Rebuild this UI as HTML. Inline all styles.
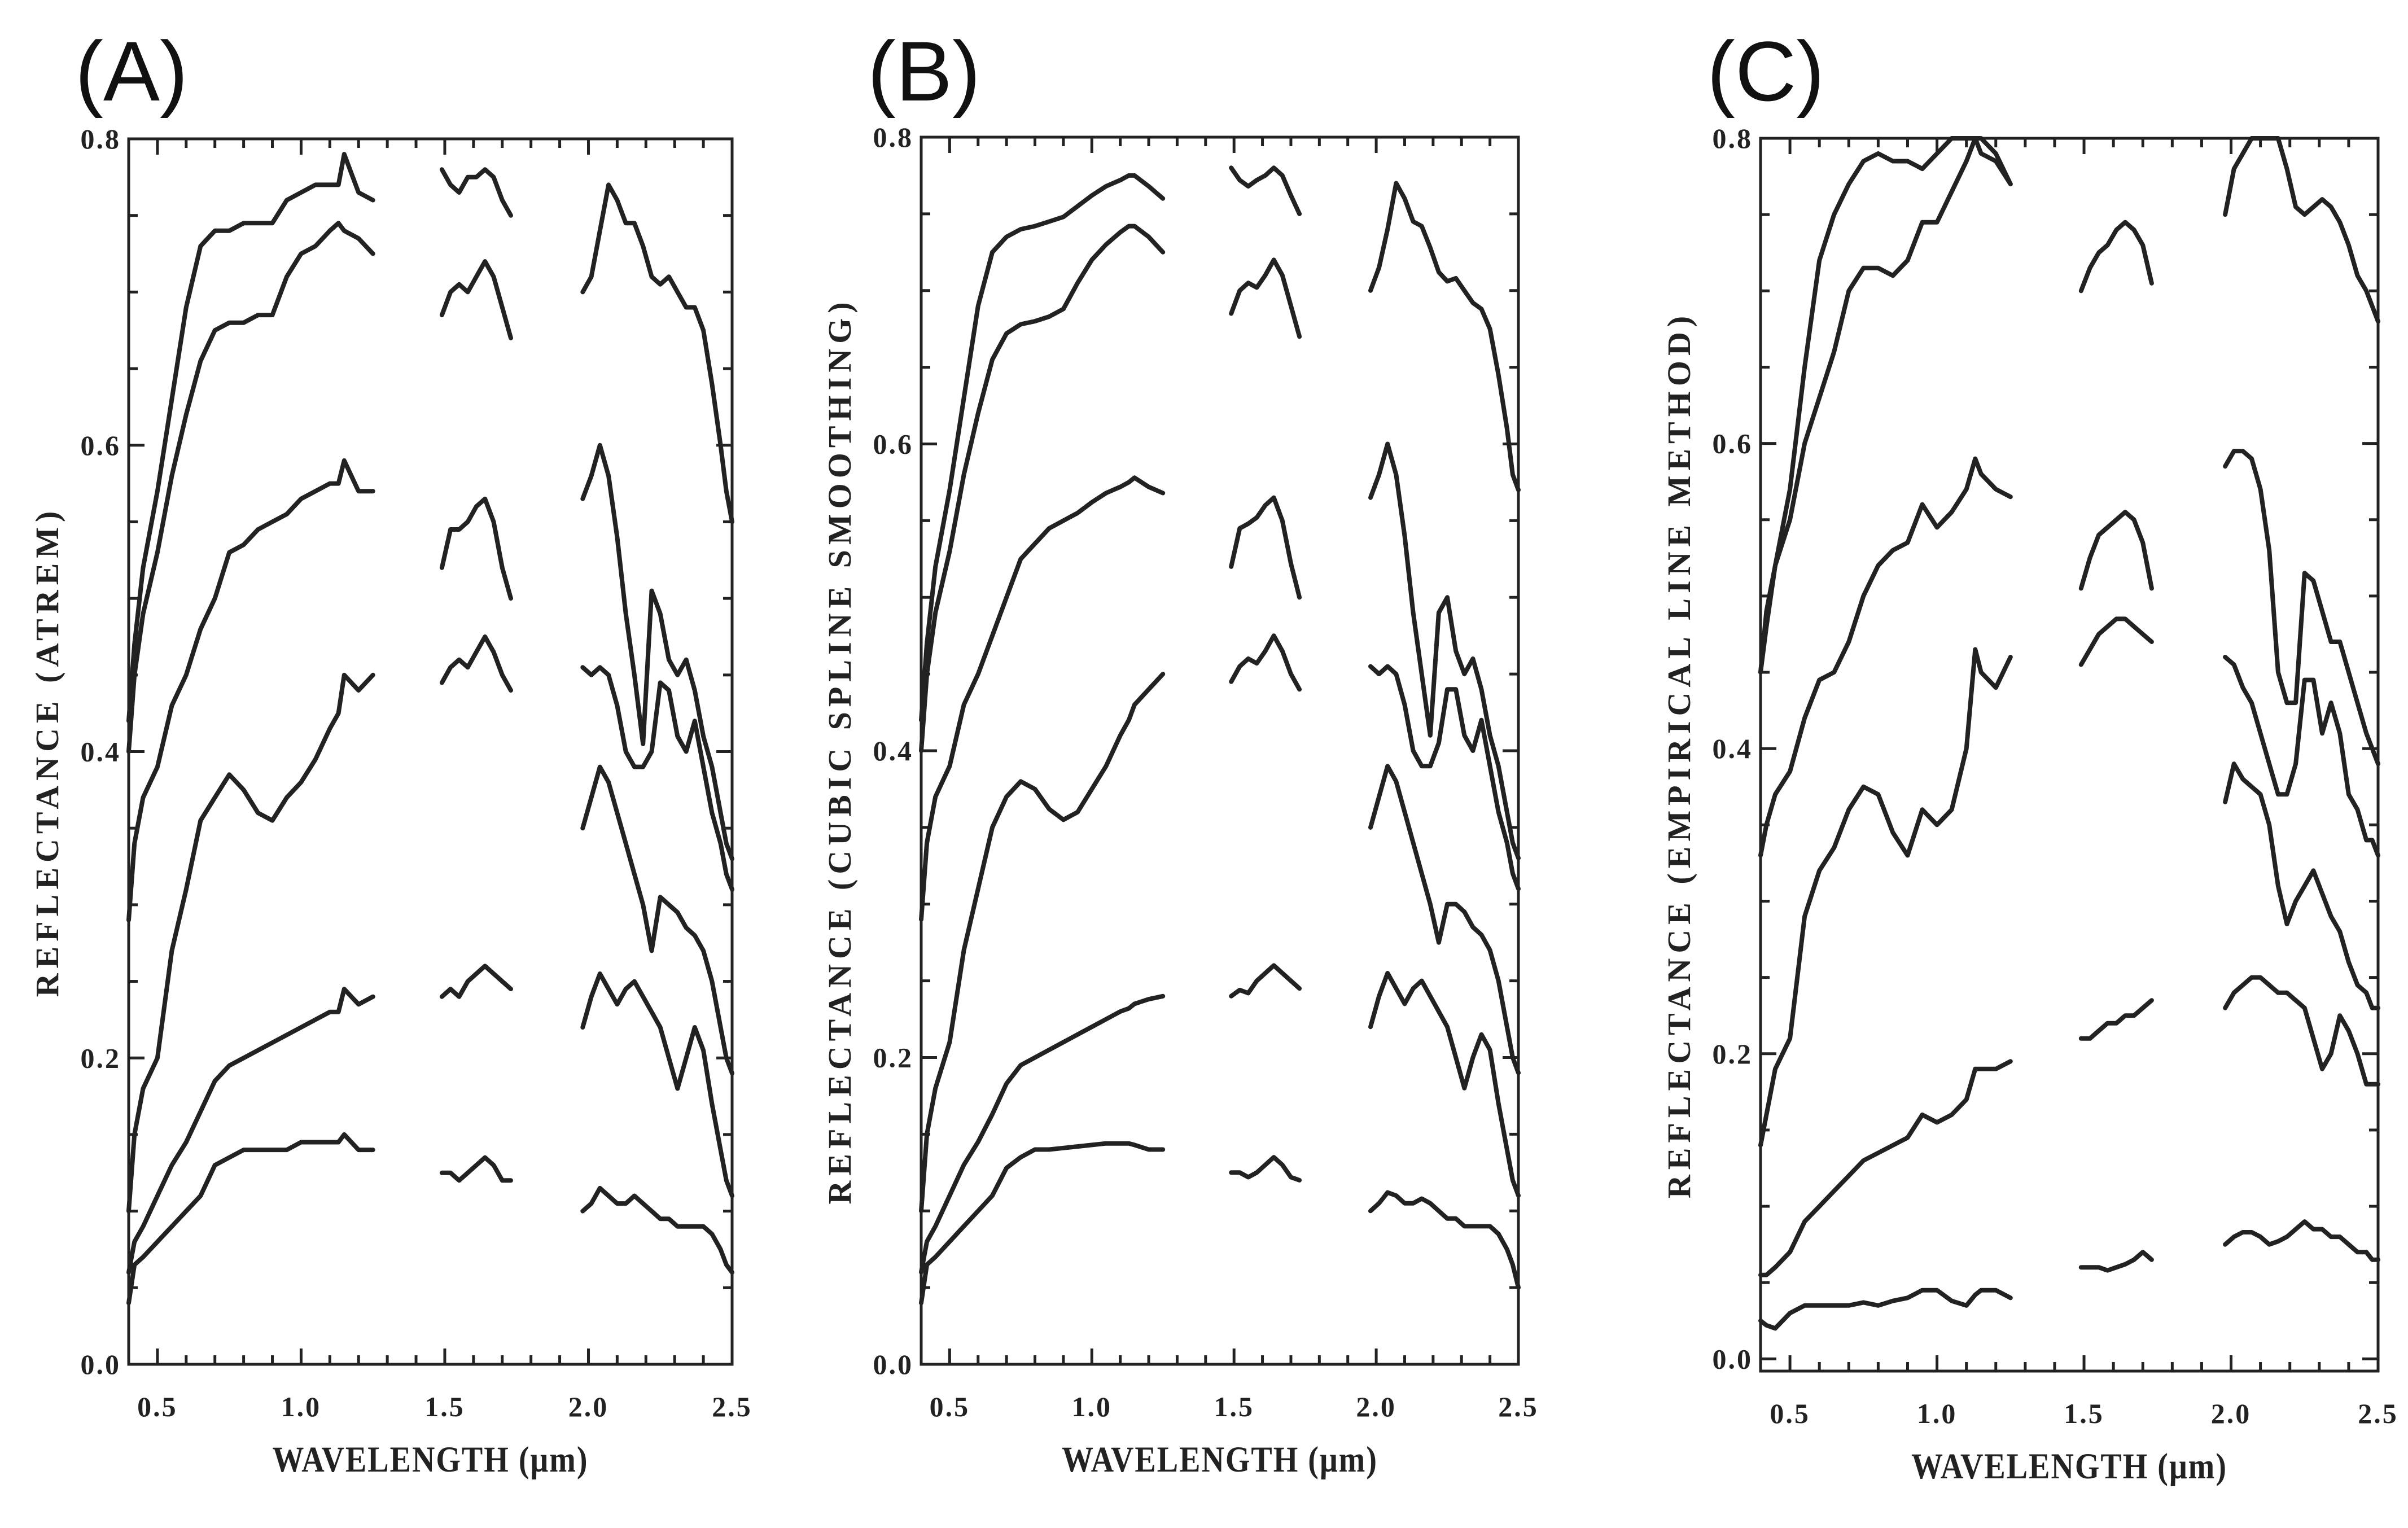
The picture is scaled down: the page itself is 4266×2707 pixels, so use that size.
<!DOCTYPE html>
<html><head><meta charset="utf-8"><style>
html,body{margin:0;padding:0;background:#fff;}
svg{display:block;}
text{font-family:"Liberation Serif",serif;font-weight:bold;fill:#222;}
.plab{font-family:"Liberation Sans",sans-serif;font-weight:normal;font-size:150px;fill:#111;}
</style></head><body>
<svg id="fig" width="4266" height="2707" viewBox="0 0 4266 2707" xmlns="http://www.w3.org/2000/svg"></svg>
<script>
// wavelength grids
const wl1 = [0.4,0.42,0.45,0.5,0.55,0.6,0.65,0.7,0.75,0.8,0.85,0.9,0.95,1.0,1.05,1.1,1.13,1.15,1.2,1.25];
const wl2 = [1.49,1.52,1.55,1.58,1.61,1.64,1.67,1.7,1.73];
const wl3 = [1.98,2.01,2.04,2.07,2.10,2.13,2.16,2.19,2.22,2.25,2.28,2.31,2.34,2.37,2.40,2.43,2.46,2.48,2.5];
const xTicks = [0.5,1.0,1.5,2.0,2.5];
const xTickLabels = ["0.5","1.0","1.5","2.0","2.5"];
const yTicks = [0,0.2,0.4,0.6,0.8];
const yTickLabels = ["0.0","0.2","0.4","0.6","0.8"];

// Panel A (ATREM)
const aL1=[0.42,0.47,0.52,0.57,0.63,0.69,0.73,0.74,0.74,0.745,0.745,0.745,0.76,0.765,0.77,0.77,0.77,0.79,0.765,0.76];
const aL2=[0.40,0.45,0.49,0.53,0.58,0.62,0.655,0.675,0.68,0.68,0.685,0.685,0.71,0.725,0.73,0.74,0.745,0.74,0.735,0.725];
const aL3=[0.29,0.34,0.37,0.39,0.43,0.45,0.48,0.50,0.53,0.535,0.545,0.55,0.555,0.565,0.57,0.575,0.575,0.59,0.57,0.57];
const aL4=[0.10,0.15,0.18,0.20,0.27,0.31,0.355,0.37,0.385,0.375,0.36,0.355,0.37,0.38,0.395,0.415,0.425,0.45,0.44,0.45];
const aL5=[0.06,0.08,0.09,0.11,0.13,0.145,0.165,0.185,0.195,0.20,0.205,0.21,0.215,0.22,0.225,0.23,0.23,0.245,0.235,0.24];
const aL6=[0.04,0.065,0.07,0.08,0.09,0.10,0.11,0.13,0.135,0.14,0.14,0.14,0.14,0.145,0.145,0.145,0.145,0.15,0.14,0.14];
const aM1=[0.78,0.77,0.765,0.775,0.775,0.78,0.775,0.76,0.75];
const aM2=[0.685,0.70,0.705,0.70,0.71,0.72,0.71,0.69,0.67];
const aM3=[0.52,0.545,0.545,0.55,0.56,0.565,0.55,0.52,0.50];
const aM4=[0.445,0.455,0.46,0.455,0.465,0.475,0.465,0.45,0.44];
const aM5=[0.24,0.245,0.24,0.25,0.255,0.26,0.255,0.25,0.245];
const aM6=[0.125,0.125,0.12,0.125,0.13,0.135,0.13,0.12,0.12];
const aR1=[0.70,0.71,0.74,0.77,0.76,0.745,0.745,0.73,0.71,0.705,0.71,0.70,0.69,0.69,0.675,0.64,0.60,0.57,0.55];
const aR2=[0.565,0.58,0.60,0.58,0.54,0.49,0.45,0.405,0.505,0.49,0.46,0.45,0.46,0.44,0.41,0.39,0.36,0.34,0.33];
const aR3=[0.455,0.45,0.455,0.45,0.43,0.40,0.39,0.39,0.40,0.445,0.44,0.41,0.40,0.42,0.39,0.36,0.34,0.32,0.31];
const aR4=[0.35,0.37,0.39,0.38,0.36,0.34,0.32,0.30,0.27,0.305,0.30,0.295,0.285,0.28,0.27,0.25,0.22,0.20,0.19];
const aR5=[0.22,0.24,0.255,0.245,0.235,0.245,0.25,0.24,0.23,0.22,0.20,0.18,0.20,0.22,0.205,0.17,0.14,0.12,0.11];
const aR6=[0.10,0.105,0.115,0.11,0.105,0.105,0.11,0.105,0.10,0.095,0.095,0.09,0.09,0.09,0.09,0.085,0.075,0.065,0.06];

// Panel B (cubic spline smoothing)
const bL1=[0.42,0.47,0.52,0.57,0.63,0.69,0.725,0.735,0.74,0.742,0.745,0.748,0.755,0.762,0.768,0.772,0.775,0.775,0.768,0.76];
const bL2=[0.40,0.45,0.49,0.53,0.58,0.62,0.655,0.672,0.678,0.68,0.683,0.688,0.705,0.72,0.73,0.738,0.742,0.742,0.735,0.725];
const bL3=[0.29,0.34,0.37,0.39,0.43,0.45,0.475,0.50,0.525,0.535,0.545,0.55,0.555,0.562,0.568,0.572,0.575,0.578,0.572,0.568];
const bL4=[0.10,0.15,0.18,0.21,0.27,0.31,0.35,0.37,0.38,0.375,0.362,0.355,0.36,0.375,0.39,0.41,0.42,0.43,0.44,0.45];
const bL5=[0.06,0.08,0.09,0.11,0.13,0.145,0.163,0.183,0.195,0.20,0.205,0.21,0.215,0.22,0.225,0.23,0.232,0.235,0.238,0.24];
const bL6=[0.04,0.065,0.07,0.08,0.09,0.10,0.11,0.128,0.135,0.14,0.14,0.141,0.142,0.143,0.144,0.144,0.144,0.143,0.14,0.14];
const bM1=[0.78,0.772,0.768,0.772,0.775,0.78,0.775,0.762,0.75];
const bM2=[0.685,0.70,0.705,0.702,0.71,0.72,0.71,0.69,0.67];
const bM3=[0.52,0.545,0.548,0.552,0.56,0.565,0.55,0.522,0.50];
const bM4=[0.445,0.455,0.46,0.457,0.465,0.475,0.465,0.45,0.44];
const bM5=[0.24,0.244,0.242,0.25,0.255,0.26,0.255,0.25,0.245];
const bM6=[0.125,0.125,0.122,0.125,0.13,0.135,0.13,0.122,0.12];
const bR1=[0.70,0.715,0.74,0.77,0.76,0.745,0.742,0.728,0.712,0.706,0.708,0.70,0.692,0.688,0.675,0.645,0.61,0.58,0.57];
const bR2=[0.565,0.58,0.60,0.58,0.54,0.49,0.45,0.41,0.49,0.50,0.465,0.45,0.46,0.44,0.41,0.39,0.36,0.34,0.33];
const bR3=[0.455,0.45,0.455,0.45,0.43,0.40,0.39,0.39,0.405,0.44,0.44,0.41,0.40,0.42,0.39,0.36,0.34,0.32,0.31];
const bR4=[0.35,0.37,0.39,0.38,0.36,0.34,0.32,0.30,0.275,0.30,0.30,0.295,0.285,0.28,0.27,0.25,0.22,0.20,0.19];
const bR5=[0.22,0.24,0.255,0.245,0.235,0.245,0.25,0.24,0.23,0.22,0.20,0.18,0.20,0.215,0.205,0.17,0.14,0.12,0.11];
const bR6=[0.10,0.105,0.112,0.11,0.105,0.105,0.108,0.105,0.10,0.095,0.095,0.09,0.09,0.09,0.09,0.085,0.075,0.065,0.05];

// Panel C (empirical line method)
const cL1=[0.45,0.48,0.52,0.57,0.65,0.72,0.75,0.77,0.785,0.79,0.785,0.785,0.78,0.79,0.80,0.80,0.80,0.79,0.785,0.77];
const cL2=[0.45,0.49,0.52,0.55,0.60,0.63,0.66,0.70,0.715,0.715,0.71,0.72,0.745,0.745,0.765,0.785,0.80,0.80,0.79,0.77];
const cL3=[0.33,0.35,0.37,0.385,0.42,0.445,0.45,0.47,0.50,0.52,0.53,0.535,0.56,0.545,0.555,0.57,0.59,0.58,0.57,0.565];
const cL4=[0.14,0.16,0.19,0.21,0.29,0.32,0.335,0.36,0.375,0.37,0.345,0.33,0.36,0.35,0.36,0.40,0.465,0.45,0.44,0.46];
const cL5=[0.055,0.055,0.06,0.07,0.09,0.10,0.11,0.12,0.13,0.135,0.14,0.145,0.16,0.155,0.16,0.17,0.19,0.19,0.19,0.195];
const cL6=[0.025,0.022,0.02,0.03,0.035,0.035,0.035,0.035,0.037,0.035,0.038,0.04,0.045,0.045,0.038,0.035,0.042,0.045,0.045,0.04];
const cM1=[0.70,0.715,0.725,0.73,0.74,0.745,0.74,0.73,0.705];
const cM2=[0.505,0.525,0.54,0.545,0.55,0.555,0.55,0.535,0.505];
const cM3=[0.455,0.465,0.475,0.48,0.485,0.485,0.48,0.475,0.47];
const cM4=[0.21,0.21,0.215,0.22,0.22,0.225,0.225,0.23,0.235];
const cM5=[0.06,0.06,0.06,0.058,0.06,0.062,0.065,0.07,0.065];
const cR1=[0.75,0.78,0.79,0.80,0.80,0.80,0.80,0.78,0.755,0.75,0.755,0.76,0.755,0.745,0.73,0.71,0.70,0.69,0.68];
const cR2=[0.585,0.595,0.595,0.59,0.57,0.53,0.45,0.43,0.43,0.515,0.51,0.49,0.47,0.47,0.45,0.43,0.41,0.40,0.39];
const cR3=[0.46,0.455,0.44,0.43,0.41,0.39,0.37,0.37,0.39,0.445,0.445,0.41,0.43,0.41,0.37,0.36,0.34,0.34,0.33];
const cR4=[0.365,0.39,0.38,0.375,0.37,0.35,0.31,0.285,0.30,0.31,0.32,0.305,0.29,0.28,0.26,0.245,0.24,0.23,0.23];
const cR5=[0.23,0.24,0.245,0.25,0.25,0.245,0.24,0.24,0.235,0.23,0.21,0.19,0.20,0.225,0.215,0.20,0.18,0.18,0.18];
const cR6=[0.075,0.08,0.083,0.083,0.08,0.075,0.077,0.08,0.085,0.09,0.085,0.085,0.08,0.08,0.075,0.07,0.07,0.065,0.065];

const NS='http://www.w3.org/2000/svg';
const svg=document.getElementById('fig');
function mk(tag,attrs,parent){const e=document.createElementNS(NS,tag);for(const k in attrs)e.setAttribute(k,attrs[k]);(parent||svg).appendChild(e);return e;}

function panel(id,letter,box,ymin,ytitle,series){
  const g=mk('g',{});
  
  
  const xS=v=>box.l+(v-0.4)/(2.5-0.4)*(box.r-box.l);
  const yS=v=>box.b-(v-ymin)/(0.8-ymin)*(box.b-box.t);
  const lab=mk('text',{x:box.l-95,y:178,class:'plab'},g);lab.textContent='('+letter+')';
  
  
  const frame=mk('rect',{x:box.l,y:box.t,width:box.r-box.l,height:box.b-box.t,fill:'none',stroke:'#222','stroke-width':5},g);
  
  
  for(let i=4;i<=25;i++){const v=i/10,x=xS(v),maj=(i%5===0),L=maj?28:16;
    mk('line',{x1:x,y1:box.b,x2:x,y2:box.b-L,stroke:'#222','stroke-width':5},g);
    mk('line',{x1:x,y1:box.t,x2:x,y2:box.t+L,stroke:'#222','stroke-width':5},g);}
  for(let i=0;i<=16;i++){const v=i*0.05;if(v<ymin)continue;const y=yS(v),maj=(i%4===0),L=maj?28:16;
    mk('line',{x1:box.l,y1:y,x2:box.l+L,y2:y,stroke:'#222','stroke-width':5},g);
    mk('line',{x1:box.r,y1:y,x2:box.r-L,y2:y,stroke:'#222','stroke-width':5},g);}
  xTicks.forEach((v,i)=>{const t=mk('text',{x:xS(v),y:box.b+92,'text-anchor':'middle','font-size':50,'letter-spacing':3},g);t.textContent=xTickLabels[i];
    
    });
  yTicks.forEach((v,i)=>{const t=mk('text',{x:box.l-14,y:yS(v)+17,'text-anchor':'end','font-size':50,'letter-spacing':3},g);t.textContent=yTickLabels[i];
    
    });
  const xt=mk('text',{x:(box.l+box.r)/2,y:box.b+190,'text-anchor':'middle','font-size':56,'letter-spacing':2},g);
  xt.setAttribute('transform',`translate(0,${-(box.b+190)*0.15}) scale(1,1.15)`);
  xt.textContent='WAVELENGTH (μm)';
  
  
  const cy=(box.t+box.b)/2, cx=box.l-125;
  const yt=mk('text',{x:cx,y:cy,'text-anchor':'middle','font-size':58,'letter-spacing':9,transform:`rotate(-90 ${cx} ${cy})`},g);
  yt.textContent=ytitle;
  
  
  series.forEach((s,k)=>{
    const d=s.y.map((v,i)=>(i?'L':'M')+xS(s.x[i]).toFixed(1)+' '+yS(v).toFixed(1)).join(' ');
    const p=mk('path',{d:d,fill:'none',stroke:'#222','stroke-width':8,'stroke-linejoin':'round','stroke-linecap':'round'},g);
    
    
  });
}
function S(x,y){return {x:x,y:y};}
panel('a','A',{l:228,r:1297,t:246,b:2417},0,'REFLECTANCE (ATREM)',
 [S(wl1,aL1),S(wl1,aL2),S(wl1,aL3),S(wl1,aL4),S(wl1,aL5),S(wl1,aL6),
  S(wl2,aM1),S(wl2,aM2),S(wl2,aM3),S(wl2,aM4),S(wl2,aM5),S(wl2,aM6),
  S(wl3,aR1),S(wl3,aR2),S(wl3,aR3),S(wl3,aR4),S(wl3,aR5),S(wl3,aR6)]);
panel('b','B',{l:1632,r:2690,t:243,b:2417},0,'REFLECTANCE (CUBIC SPLINE SMOOTHING)',
 [S(wl1,bL1),S(wl1,bL2),S(wl1,bL3),S(wl1,bL4),S(wl1,bL5),S(wl1,bL6),
  S(wl2,bM1),S(wl2,bM2),S(wl2,bM3),S(wl2,bM4),S(wl2,bM5),S(wl2,bM6),
  S(wl3,bR1),S(wl3,bR2),S(wl3,bR3),S(wl3,bR4),S(wl3,bR5),S(wl3,bR6)]);
panel('c','C',{l:3119,r:4213,t:245,b:2429},-0.008,'REFLECTANCE (EMPIRICAL LINE METHOD)',
 [S(wl1,cL1),S(wl1,cL2),S(wl1,cL3),S(wl1,cL4),S(wl1,cL5),S(wl1,cL6),
  S(wl2,cM1),S(wl2,cM2),S(wl2,cM3),S(wl2,cM4),S(wl2,cM5),
  S(wl3,cR1),S(wl3,cR2),S(wl3,cR3),S(wl3,cR4),S(wl3,cR5),S(wl3,cR6)]);
</script>
</body></html>
